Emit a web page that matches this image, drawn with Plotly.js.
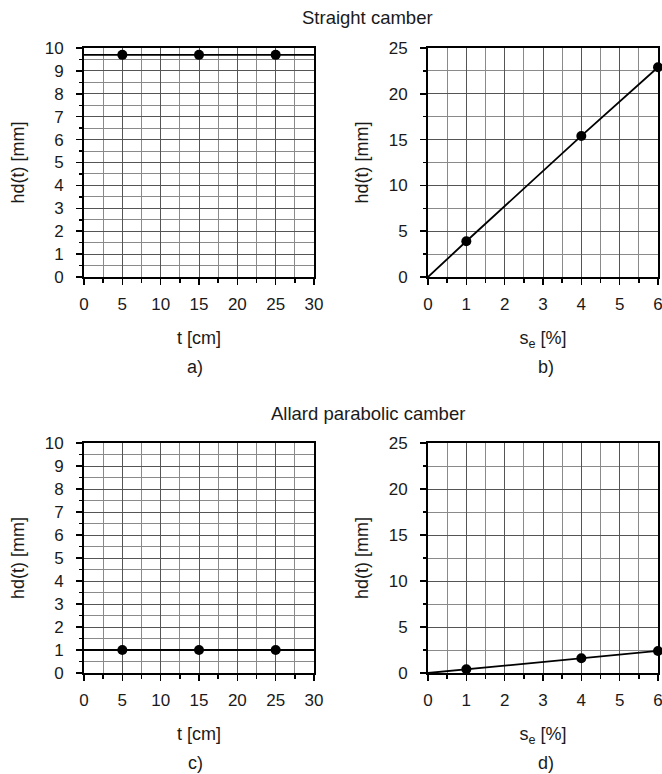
<!DOCTYPE html>
<html>
<head>
<meta charset="utf-8">
<script src="https://cdn.plot.ly/plotly-3.0.1.min.js"></script>
<style>html,body{margin:0;padding:0;background:#fff;}#chart{width:662px;height:774px;}</style>
</head>
<body>
<div id="chart"></div>
<script>
// Panel a) Straight camber, hd(t) vs t
const tPoints = [5, 15, 25];
const hdStraightT = [9.7, 9.7, 9.7];
const tLine = [0, 30];
const hdStraightTLine = [9.7, 9.7];

// Panel b) Straight camber, hd(t) vs se
const sePoints = [1, 4, 6];
const hdStraightSe = [3.9, 15.4, 22.9];
const seLine = [0, 1, 4, 6];
const hdStraightSeLine = [0, 3.9, 15.4, 22.9];

// Panel c) Allard parabolic camber, hd(t) vs t
const hdAllardT = [1.0, 1.0, 1.0];
const hdAllardTLine = [1.0, 1.0];

// Panel d) Allard parabolic camber, hd(t) vs se
const hdAllardSe = [0.4, 1.6, 2.4];
const hdAllardSeLine = [0, 0.4, 1.6, 2.4];

const panelLabels = ['a)', 'b)', 'c)', 'd)'];
const titles = ['Straight camber', 'Allard parabolic camber'];

const FONT = '"Liberation Sans", Arial, sans-serif';
const TXT = '#1a1a1a';
const lineStyle = {color: '#000', width: 1.8};
const markerStyle = {color: '#000', size: 10};

function lineTrace(x, y, xa, ya) {
  return {x: x, y: y, xaxis: xa, yaxis: ya, mode: 'lines', line: lineStyle,
          hoverinfo: 'skip', showlegend: false, cliponaxis: false};
}
function pointTrace(x, y, xa, ya) {
  return {x: x, y: y, xaxis: xa, yaxis: ya, mode: 'markers', marker: markerStyle,
          showlegend: false, cliponaxis: false};
}

const data = [
  lineTrace(tLine, hdStraightTLine, 'x', 'y'),
  pointTrace(tPoints, hdStraightT, 'x', 'y'),
  lineTrace(seLine, hdStraightSeLine, 'x2', 'y2'),
  pointTrace(sePoints, hdStraightSe, 'x2', 'y2'),
  lineTrace(tLine, hdAllardTLine, 'x3', 'y3'),
  pointTrace(tPoints, hdAllardT, 'x3', 'y3'),
  lineTrace(seLine, hdAllardSeLine, 'x4', 'y4'),
  pointTrace(sePoints, hdAllardSe, 'x4', 'y4')
];

const W = 662, H = 774;
const xdomA = [84 / W, 314 / W];
const xdomB = [428 / W, 658 / W];
const ydomTop = [1 - 277 / H, 1 - 48 / H];
const ydomBot = [1 - 673 / H, 1 - 443 / H];

function axis(isX, range, dtick, minorDtick, domain, anchor, title) {
  return {
    domain: domain, anchor: anchor, range: range, dtick: dtick, tick0: 0,
    showline: true, linecolor: '#000', linewidth: 2, mirror: true,
    ticks: 'outside', ticklen: 6, tickwidth: 1.5, tickcolor: '#000',
    ticklabelstandoff: isX ? 5 : 9,
    ticklabeloverflow: 'allow',
    showgrid: true, gridcolor: '#555', gridwidth: 1,
    zeroline: false, fixedrange: true,
    tickfont: {family: FONT, size: 17, color: TXT},
    minor: {dtick: minorDtick, tick0: 0, ticks: 'outside', ticklen: 3.5, tickwidth: 1.5,
            tickcolor: '#000', showgrid: true, gridcolor: '#8a8a8a', gridwidth: 1},
    title: {text: title, font: {family: FONT, size: 18, color: TXT}, standoff: isX ? 18 : 15}
  };
}

function ann(text, px, py, size) {
  return {text: text, x: px / W, y: 1 - py / H, xref: 'paper', yref: 'paper', showarrow: false,
          font: {family: FONT, size: size, color: TXT}, xanchor: 'center', yanchor: 'middle'};
}

const layout = {
  width: W, height: H,
  margin: {l: 0, r: 0, t: 0, b: 0},
  paper_bgcolor: '#fff', plot_bgcolor: '#fff',
  showlegend: false,
  xaxis: axis(true, [0, 30], 5, 2.5, xdomA, 'y', 't [cm]'),
  yaxis: axis(false, [0, 10], 1, 0.5, ydomTop, 'x', 'hd(t) [mm]'),
  xaxis2: axis(true, [0, 6], 1, 0.5, xdomB, 'y2', 's<sub>e</sub> [%]'),
  yaxis2: axis(false, [0, 25], 5, 2.5, ydomTop, 'x2', 'hd(t) [mm]'),
  xaxis3: axis(true, [0, 30], 5, 2.5, xdomA, 'y3', 't [cm]'),
  yaxis3: axis(false, [0, 10], 1, 0.5, ydomBot, 'x3', 'hd(t) [mm]'),
  xaxis4: axis(true, [0, 6], 1, 0.5, xdomB, 'y4', 's<sub>e</sub> [%]'),
  yaxis4: axis(false, [0, 25], 5, 2.5, ydomBot, 'x4', 'hd(t) [mm]'),
  annotations: [
    ann(titles[0], 367, 17, 18.5),
    ann(titles[1], 368, 413, 18.5),
    ann(panelLabels[0], 195, 367, 18),
    ann(panelLabels[1], 546, 367, 18),
    ann(panelLabels[2], 195, 763, 18),
    ann(panelLabels[3], 546, 763, 18)
  ]
};

Plotly.newPlot('chart', data, layout, {displayModeBar: false, staticPlot: true});
</script>
</body>
</html>
